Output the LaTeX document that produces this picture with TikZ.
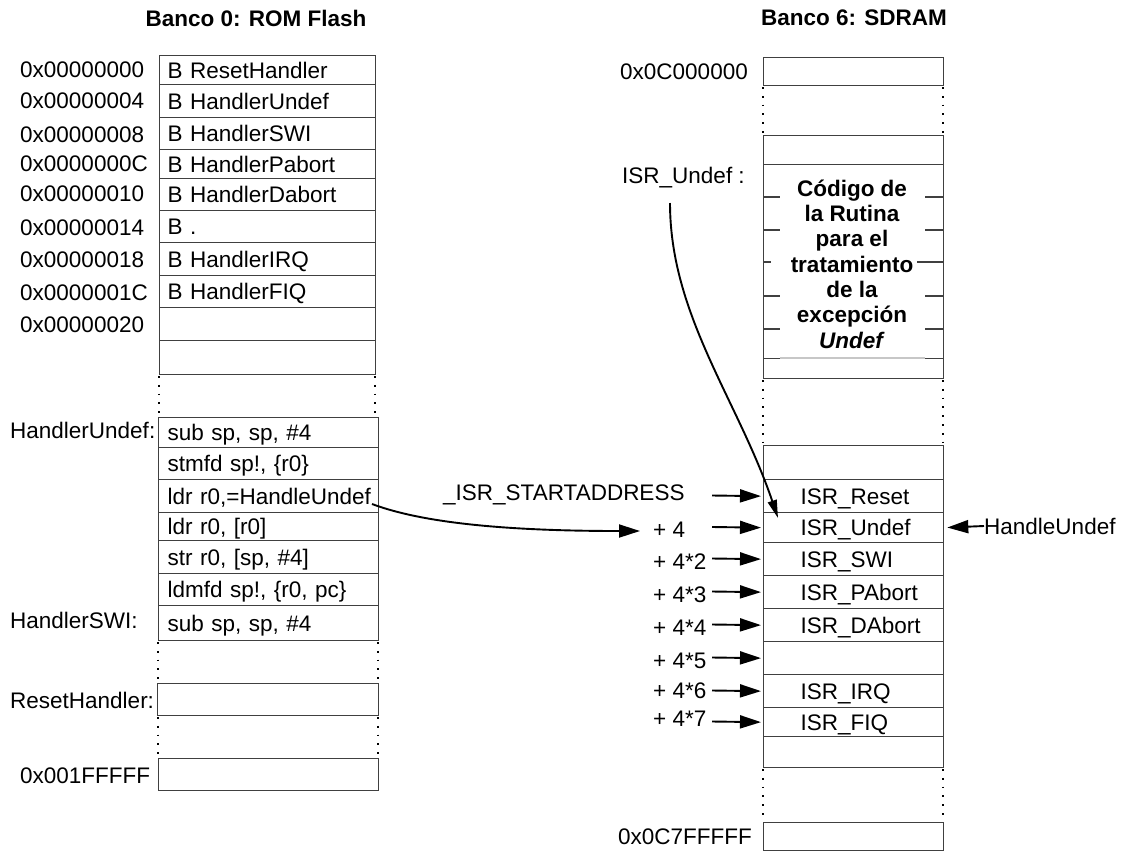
\documentclass[tikz,border=0pt]{standalone}
\usepackage{fontspec}
\setmainfont{Liberation Sans}
\usetikzlibrary{arrows.meta}
\begin{document}
\begin{tikzpicture}[x=1pt,y=-1pt,
  every node/.style={font=\fontsize{22.5}{27}\selectfont},
  box/.style={draw=black!75, line width=1.3pt, anchor=north west, inner ysep=0pt, align=left, text height=16.1pt, text depth=0pt},
  cA/.style={box, inner xsep=8pt, text width=200pt},
  cB/.style={box, inner xsep=9pt, text width=202pt},
  cC/.style={box, inner xsep=37pt, text width=106pt},
  eR/.style={box, inner xsep=0pt, minimum width=180pt},
  lab/.style={anchor=west, inner sep=0pt, text height=16.1pt, text depth=0pt},
  ttl/.style={inner sep=0pt, font=\fontsize{22.5}{27}\selectfont\bfseries},
  dots/.style={line width=1.8pt, dash pattern=on 1.8pt off 7pt},
  rowline/.style={draw=black!75, line width=1.3pt},
  arr/.style={line width=1.9pt, -{Triangle[length=21pt,width=13pt]}},
  arrthin/.style={line width=1.9pt, -{Triangle[length=18pt,width=9pt]}}
]
\useasboundingbox (0,0) rectangle (1126,852);

% titles
\node[ttl] (title0) at (256,18) {Banco 0: ROM Flash};
\node[ttl] (title6) at (854,18) {Banco 6: SDRAM};

% ---------- left column ----------
\node[cA, minimum height=29pt] (a0) at (159,55)  {\mbox{B ResetHandler}};
\node[cA, minimum height=33pt] (a1) at (159,84)  {\mbox{B HandlerUndef}};
\node[cA, minimum height=32pt] (a2) at (159,117) {\mbox{B HandlerSWI}};
\node[cA, minimum height=29pt] (a3) at (159,149) {\mbox{B HandlerPabort}};
\node[cA, minimum height=32pt] (a4) at (159,178) {\mbox{B HandlerDabort}};
\node[cA, minimum height=32pt] (a5) at (159,210) {\mbox{B .}};
\node[cA, minimum height=33pt] (a6) at (159,242) {\mbox{B HandlerIRQ}};
\node[cA, minimum height=32pt] (a7) at (159,275) {\mbox{B HandlerFIQ}};
\node[cA, minimum height=33pt] (a8) at (159,307) {};
\node[cA, minimum height=34pt] (a9) at (159,340) {};

\node[lab] (l0) at (20,69.5) {0x00000000};
\node[lab] (l1) at (20,100)  {0x00000004};
\node[lab] (l2) at (20,134)  {0x00000008};
\node[lab] (l3) at (20,163)  {0x0000000C};
\node[lab] (l4) at (20,193)  {0x00000010};
\node[lab] (l5) at (20,227)  {0x00000014};
\node[lab] (l6) at (20,259)  {0x00000018};
\node[lab] (l7) at (20,292)  {0x0000001C};
\node[lab] (l8) at (20,324)  {0x00000020};

\draw[dots] (159,376) -- (159,416);
\draw[dots] (375,376) -- (375,416);

\node[cB, minimum height=30pt] (m0) at (158,417) {\mbox{sub sp, sp, \#4}};
\node[cB, minimum height=32pt] (m1) at (158,447) {\mbox{stmfd sp!, \{r0\}}};
\node[cB, minimum height=33pt] (m2) at (158,479) {\mbox{ldr r0,=HandleUndef}};
\node[cB, minimum height=28pt] (m3) at (158,512) {\mbox{ldr r0, [r0]}};
\node[cB, minimum height=33pt] (m4) at (158,540) {\mbox{str r0, [sp, \#4]}};
\node[cB, minimum height=32pt] (m5) at (158,573) {\mbox{ldmfd sp!, \{r0, pc\}}};
\node[cB, minimum height=35pt] (m6) at (158,605) {\mbox{sub sp, sp, \#4}};

\node[lab] (hu) at (10,430) {HandlerUndef:};
\node[lab] (hs) at (10,620) {HandlerSWI:};

\draw[dots] (158,642) -- (158,682);
\draw[dots] (378,642) -- (378,682);
\node[box, minimum width=221pt, minimum height=32pt] (rh) at (157,683) {};
\node[lab] (rhl) at (10,700) {ResetHandler:};

\draw[dots] (158,717) -- (158,757);
\draw[dots] (378,717) -- (378,757);
\node[box, minimum width=220pt, minimum height=32pt] (le) at (158,758) {};
\node[lab] (lel) at (20,775) {0x001FFFFF};

% ---------- right column ----------
\node[eR, minimum height=28pt] (t0) at (763,57) {};
\node[lab] (r0l) at (620,71) {0x0C000000};
\draw[dots] (763,87) -- (763,134);
\draw[dots] (943,87) -- (943,134);

\node[eR, minimum height=29pt] (t1) at (763,135) {};
\node[eR, minimum height=194pt] (cb) at (763,164) {};
\foreach \yy in {197,230,296,329} {
  \draw[rowline] (763,\yy) -- (780,\yy);
  \draw[rowline] (925,\yy) -- (943,\yy);
}
\draw[rowline] (763,262) -- (771,262);
\draw[rowline] (917,262) -- (943,262);
\node[eR, minimum height=20pt] (t2) at (763,358) {};
\draw[draw=black!22, line width=1.4pt] (780,358) -- (925,358);
\node[align=center, inner sep=0pt, font=\fontsize{22.5}{25.3}\selectfont\bfseries] (code) at (852,264)
  {Código de\\la Rutina\\para el\\tratamiento\\de la\\excepción\\\textit{Undef}};
\node[lab] (iul) at (622,175) {ISR\_Undef :};

\draw[dots] (763,380) -- (763,444);
\draw[dots] (943,380) -- (943,444);

\node[eR, minimum height=34pt] (r0) at (763,445) {};
\node[cC, minimum height=33pt] (r1) at (763,479) {\mbox{ISR\_Reset}};
\node[cC, minimum height=30pt] (r2) at (763,512) {\mbox{ISR\_Undef}};
\node[cC, minimum height=33pt] (r3) at (763,542) {\mbox{ISR\_SWI}};
\node[cC, minimum height=33pt] (r4) at (763,575) {\mbox{ISR\_PAbort}};
\node[cC, minimum height=33pt] (r5) at (763,608) {\mbox{ISR\_DAbort}};
\node[eR, minimum height=33pt] (r6) at (763,641) {};
\node[cC, minimum height=33pt] (r7) at (763,674) {\mbox{ISR\_IRQ}};
\node[cC, minimum height=29pt] (r8) at (763,707) {\mbox{ISR\_FIQ}};
\node[eR, minimum height=31pt] (r9) at (763,736) {};

\draw[dots] (763,769) -- (763,821);
\draw[dots] (943,769) -- (943,821);
\node[eR, minimum height=28pt] (t3) at (763,822) {};
\node[lab] (rel) at (618,836) {0x0C7FFFFF};

% offsets
\node[lab] (sa) at (443,492) {\_ISR\_STARTADDRESS};
\node[lab] (p1) at (653,529) {+ 4};
\node[lab] (p2) at (653,561) {+ 4*2};
\node[lab] (p3) at (653,594) {+ 4*3};
\node[lab] (p4) at (653,627) {+ 4*4};
\node[lab] (p5) at (653,660) {+ 4*5};
\node[lab] (p6) at (653,690) {+ 4*6};
\node[lab] (p7) at (653,718) {+ 4*7};

\coordinate (s0) at (712,495.5);
\coordinate (s1) at (712,527);
\coordinate (s2) at (712,558.5);
\coordinate (s3) at (712,591.5);
\coordinate (s4) at (712,624.5);
\coordinate (s5) at (712,657.5);
\coordinate (s6) at (712,690.5);
\coordinate (s7) at (712,721.5);
\draw[arr, shorten >=2pt] (s0) -- (r1.west);
\draw[arr, shorten >=2pt] (s1) -- (r2.west);
\draw[arr, shorten >=2pt] (s2) -- (r3.west);
\draw[arr, shorten >=2pt] (s3) -- (r4.west);
\draw[arr, shorten >=2pt] (s4) -- (r5.west);
\draw[arr, shorten >=2pt] (s5) -- (r6.west);
\draw[arr, shorten >=2pt] (s6) -- (r7.west);
\draw[arr, shorten >=2pt] (s7) -- (r8.west);

\node[lab] (hul) at (984,526) {HandleUndef};
\draw[arr, shorten >=3pt] (hul.west) -- (r2.east);

% curved connectors
\coordinate (cs) at (372,504);
\coordinate (ce) at (640,531);
\draw[arr] (cs) .. controls (420,522) and (500,531) .. (ce);

\coordinate (us) at (670,203);
\coordinate (ue) at (778,518);
\draw[arrthin] (us) .. controls (670,315) and (738,400) .. (ue);
\end{tikzpicture}
\end{document}
